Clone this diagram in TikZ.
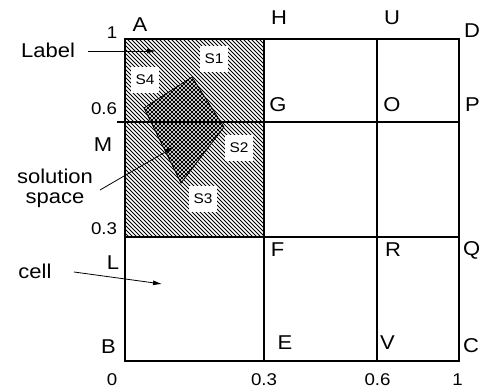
\documentclass[tikz,border=0pt]{standalone}
\usepackage{fontspec}
\setmainfont{Liberation Sans}[FakeStretch=1.1]
\usetikzlibrary{arrows.meta}

\tikzset{
  gridline/.style={line width=1.2pt, line cap=rect},
  hatchline/.style={line width=0.9pt},
  crossline/.style={line width=0.75pt},
  letter/.style={font=\fontsize{20}{22}\selectfont, inner sep=0pt},
  tick/.style={font=\fontsize{17}{19}\selectfont, inner sep=0pt},
  caption/.style={font=\fontsize{20}{22}\selectfont, inner sep=0pt, align=center},
  sidelabel/.style={font=\fontsize{14}{16}\selectfont, fill=white, inner xsep=5pt, inner ysep=8pt},
  pointer/.style={line width=0.8pt, -{Latex[length=9pt,width=5pt]}}
}

\begin{document}
\begin{tikzpicture}[x=1pt, y=-1pt]
\useasboundingbox (0,0) rectangle (480,389);

% hatched region of the labelled cells
\begin{scope}
  \clip (125,39) rectangle (264,237);
  \foreach \c in {-124,-120,...,240}
    \draw[hatchline] (\c,0) -- (\c+300,300);
\end{scope}

% solution space: cross-hatched quadrilateral
\coordinate (q1) at (192,77);
\coordinate (q2) at (224,127);
\coordinate (q3) at (181,183);
\coordinate (q4) at (144,108);
\fill[white] (q1) -- (q2) -- (q3) -- (q4) -- cycle;
\begin{scope}
  \clip (q1) -- (q2) -- (q3) -- (q4) -- cycle;
  \foreach \c in {-80,-76,...,160}
    \draw[crossline] (\c,0) -- (\c+300,300);
  \foreach \c in {200,204,...,420}
    \draw[crossline] (\c,0) -- (\c-300,300);
\end{scope}
\draw[line width=0.8pt] (q1) -- (q2) -- (q3) -- (q4) -- cycle;

% grid of cells
\draw[gridline] (125,39) rectangle (459,361);
\draw[gridline] (264,39) -- (264,361);
\draw[gridline] (377,39) -- (377,361);
\draw[gridline] (118,122) -- (459,122);
\draw[gridline] (125,237) -- (459,237);

% side labels S1..S4
\node[sidelabel] (s1) at (214,59) {S1};
\node[sidelabel] (s4) at (145,80) {S4};
\node[sidelabel] (s2) at (239,148) {S2};
\node[sidelabel] (s3) at (203,199) {S3};

% corner letters
\node[letter] (A) at (140,24.5) {A};
\node[letter] (H) at (279,17.5) {H};
\node[letter] (U) at (392,17.5) {U};
\node[letter, anchor=west] (D) at (464,31) {D};
\node[letter] (G) at (278,104.5) {G};
\node[letter] (O) at (392,104.5) {O};
\node[letter, anchor=west] (P) at (465,104.5) {P};
\node[letter] (M) at (103,144.5) {M};
\node[letter] (F) at (277.5,250) {F};
\node[letter] (R) at (393,250) {R};
\node[letter, anchor=west] (Q) at (463,250) {Q};
\node[letter] (L) at (113,263) {L};
\node[letter] (B) at (108.5,346.5) {B};
\node[letter] (E) at (285,342.5) {E};
\node[letter] (V) at (387.5,342.5) {V};
\node[letter, anchor=west] (C) at (463,345.5) {C};

% axis values
\node[tick] (y1) at (112,32.5) {1};
\node[tick] (y06) at (104,108.5) {0.6};
\node[tick] (y03) at (104,228.5) {0.3};
\node[tick] (x0) at (112,380) {0};
\node[tick] (x03) at (264,380) {0.3};
\node[tick] (x06) at (377.5,380) {0.6};
\node[tick] (x1) at (457.5,380) {1};

% captions with pointers
\node[caption] (lbl) at (48,50) {Label};
\coordinate (lblfrom) at (88,51);
\coordinate (lbltip) at (156,51);
\draw[pointer] (lblfrom) -- (lbltip);

\node[caption] (sol) at (55,188) {solution\\[-2pt]space};
\coordinate (solfrom) at (100,190);
\coordinate (soltip) at (174,147);
\draw[pointer] (solfrom) -- (soltip);

\node[caption] (cell) at (35,271) {cell};
\coordinate (cellfrom) at (74,272);
\coordinate (celltip) at (162,284);
\draw[pointer] (cellfrom) -- (celltip);
\end{tikzpicture}
\end{document}
